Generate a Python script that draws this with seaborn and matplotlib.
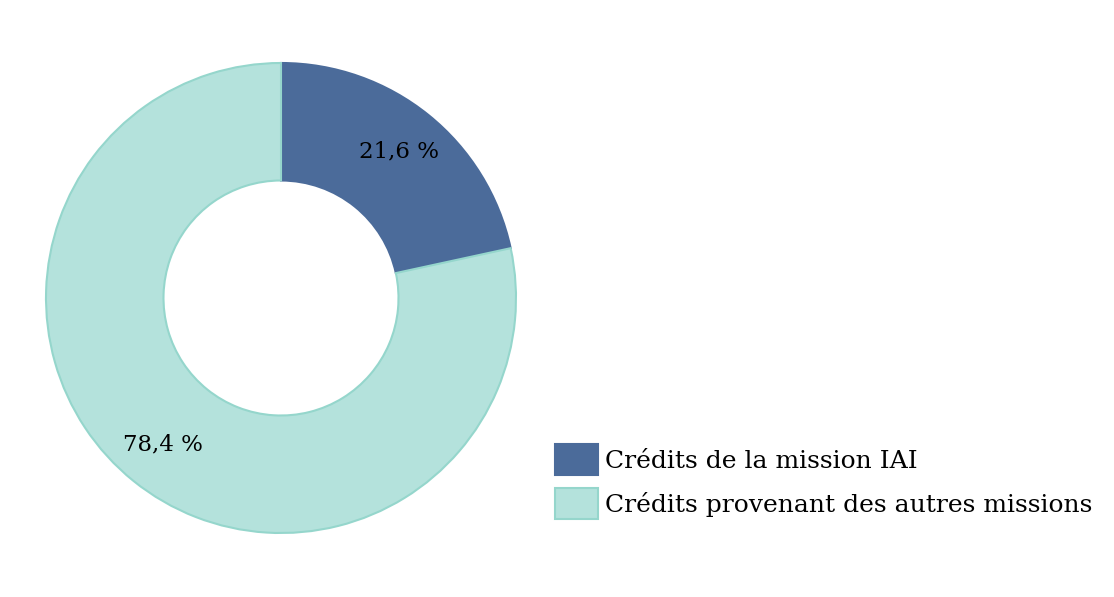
import matplotlib
matplotlib.use('Agg')
import matplotlib.pyplot as plt
import seaborn as sns

# Data
labels = ['Crédits de la mission IAI', 'Crédits provenant des autres missions']
values = [21.6, 78.4]
colors = ['#4b6b9a', '#b4e2dc']
edges = ['#4b6b9a', '#95d6cc']

sns.set_theme(style='white')
plt.rcParams['font.family'] = ['DejaVu Serif', 'Liberation Serif']

fig = plt.figure(figsize=(11.14, 5.97), dpi=100)
ax = fig.add_axes([46 / 1114, 64 / 597, 470 / 1114, 470 / 597])

wedges, texts, autotexts = ax.pie(
    values, colors=colors, startangle=90, counterclock=False,
    autopct=lambda p: f'{p:.1f} %'.replace('.', ','), pctdistance=0.8,
    wedgeprops=dict(width=0.5, linewidth=1.5),
    textprops=dict(fontsize=16.5, color='black'))
for w, e in zip(wedges, edges):
    w.set_edgecolor(e)
ax.set_xlim(-1, 1)
ax.set_ylim(-1, 1)
ax.set_aspect('equal')

leg = fig.legend(wedges, labels, loc='upper left', bbox_to_anchor=(555 / 1114, 1 - 444 / 597),
                 frameon=False, fontsize=18, handlelength=1.7, handleheight=1.55,
                 handletextpad=0.3, labelspacing=0.5, borderpad=0, borderaxespad=0)
for t in leg.get_texts():
    t.set_color('black')

fig.savefig('out.png', dpi=100)
